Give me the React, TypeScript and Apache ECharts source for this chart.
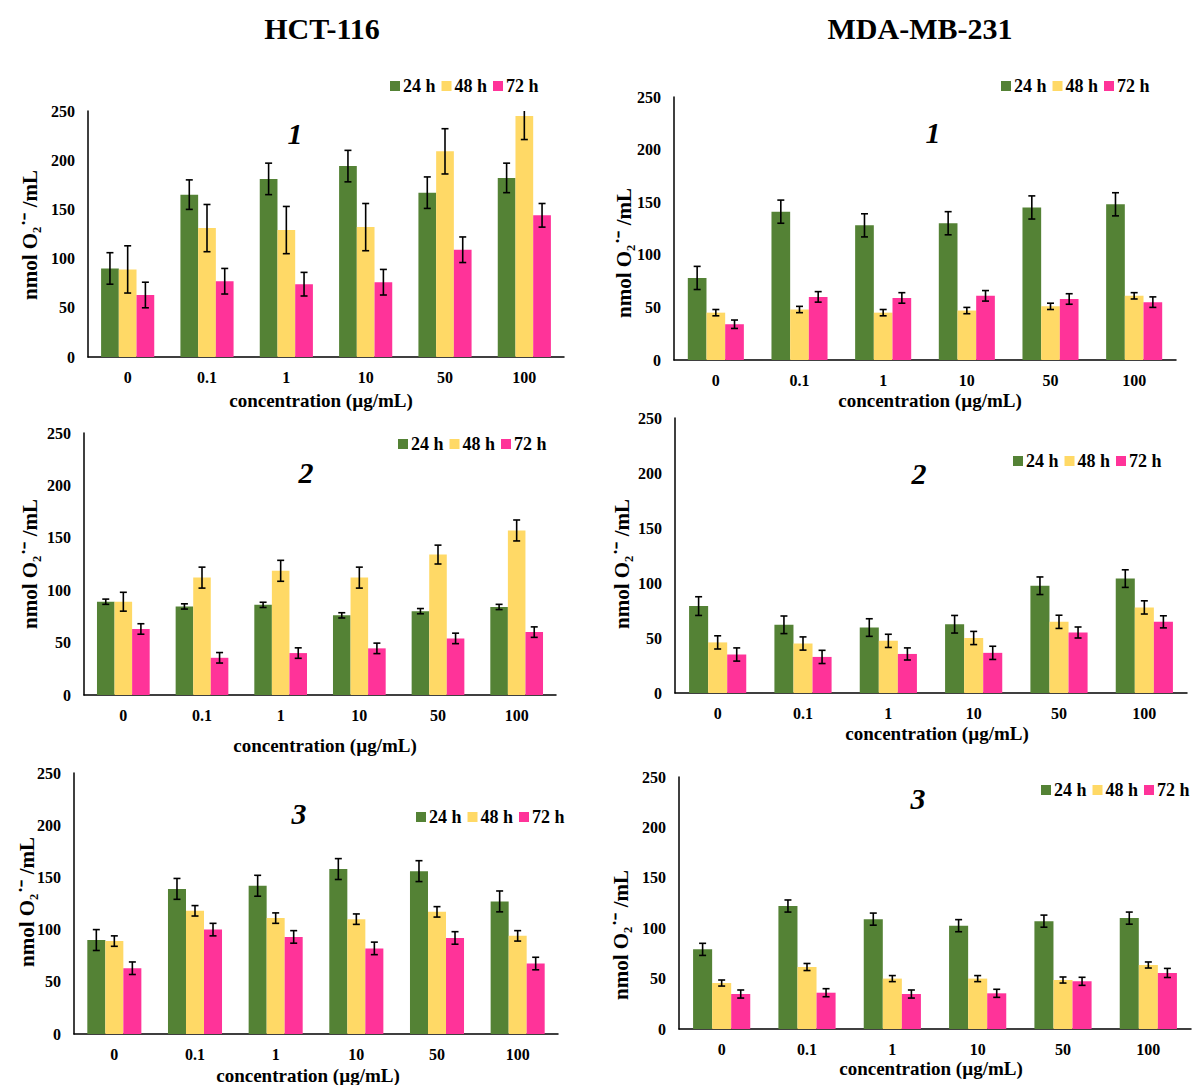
import React, { useEffect, useRef } from "react";
import * as echarts from "echarts";

// ---------- data ----------
const categories = ["0", "0.1", "1", "10", "50", "100"];
const seriesNames = ["24 h", "48 h", "72 h"];
const yTicks = { min: 0, max: 250, interval: 50 };

// HCT-116, compound 1
const hct1_24 = [90, 165, 181, 194, 167, 182];
const hct1_24sd = [16, 15, 16, 16, 16, 15];
const hct1_48 = [89, 131, 129, 132, 209, 245];
const hct1_48sd = [24, 24, 24, 24, 23, 24];
const hct1_72 = [63, 77, 74, 76, 109, 144];
const hct1_72sd = [13, 13, 12, 13, 13, 12];

// MDA-MB-231, compound 1
const mda1_24 = [78, 141, 128, 130, 145, 148];
const mda1_24sd = [11, 11, 11, 11, 11, 11];
const mda1_48 = [45, 48, 45, 47, 51, 61];
const mda1_48sd = [3, 3, 3, 3, 3, 3];
const mda1_72 = [34, 60, 59, 61, 58, 55];
const mda1_72sd = [4, 5, 5, 5, 5, 5];

// HCT-116, compound 2
const hct2_24 = [89, 84.5, 86, 76, 80, 84];
const hct2_24sd = [2.5, 2.5, 2.5, 2.5, 2.5, 2.5];
const hct2_48 = [89, 112, 118.5, 112, 134, 157];
const hct2_48sd = [9, 10, 10, 10, 9, 10];
const hct2_72 = [63, 35.5, 40, 44.5, 54, 60];
const hct2_72sd = [5, 5, 5, 5, 5, 5];

// MDA-MB-231, compound 2
const mda2_24 = [79, 62, 59.5, 62.5, 97.5, 104];
const mda2_24sd = [8.5, 8, 8, 8, 8, 8];
const mda2_48 = [46, 45, 47.4, 50, 64.7, 77.8];
const mda2_48sd = [6, 6, 6, 6, 6, 6];
const mda2_72 = [35, 32.8, 35.5, 36.5, 55, 64.7];
const mda2_72sd = [6, 6, 5.5, 6, 5, 5.5];

// HCT-116, compound 3
const hct3_24 = [90, 139, 142, 158, 156, 127];
const hct3_24sd = [10, 10, 10, 10, 10, 10];
const hct3_48 = [89, 118, 111, 110, 117, 94];
const hct3_48sd = [5, 5, 5, 5, 5, 5];
const hct3_72 = [63, 100, 93, 82, 92, 67.5];
const hct3_72sd = [6, 6, 6, 6, 6, 6];

// MDA-MB-231, compound 3
const mda3_24 = [79, 122, 109, 102.5, 107, 110];
const mda3_24sd = [6, 6, 6, 6, 6, 6];
const mda3_48 = [45.6, 61.5, 50, 50, 48.6, 63.5];
const mda3_48sd = [3, 3.5, 3, 3, 3, 3];
const mda3_72 = [34.7, 36, 34.7, 35.4, 47.3, 55.6];
const mda3_72sd = [4, 4, 4, 4, 4, 4.5];

// ---------- layout / style ----------
const COLORS = ["#548235", "#FFD966", "#FF3399"];
const FONT = '"Liberation Serif", "Times New Roman", serif';
const CAT_GAP = 0.33;

const panels = [
  {
    label: "1", means: [hct1_24, hct1_48, hct1_72], sds: [hct1_24sd, hct1_48sd, hct1_72sd],
    grid: { left: 88, top: 111, width: 476, height: 246 },
    legend: { left: 390, cy: 87 }, labelPos: [295, 133], yTitle: [30, 235], xTitle: [321, 400],
  },
  {
    label: "1", means: [mda1_24, mda1_48, mda1_72], sds: [mda1_24sd, mda1_48sd, mda1_72sd],
    grid: { left: 674, top: 97, width: 502, height: 263 },
    legend: { left: 1001, cy: 87 }, labelPos: [933, 132], yTitle: [624, 253], xTitle: [930, 400],
  },
  {
    label: "2", means: [hct2_24, hct2_48, hct2_72], sds: [hct2_24sd, hct2_48sd, hct2_72sd],
    grid: { left: 84, top: 433, width: 472, height: 262 },
    legend: { left: 398, cy: 445 }, labelPos: [306, 472], yTitle: [30, 564], xTitle: [325, 745],
  },
  {
    label: "2", means: [mda2_24, mda2_48, mda2_72], sds: [mda2_24sd, mda2_48sd, mda2_72sd],
    grid: { left: 675, top: 418, width: 512, height: 275 },
    legend: { left: 1013, cy: 462 }, labelPos: [919, 473], yTitle: [622, 564], xTitle: [937, 733],
  },
  {
    label: "3", means: [hct3_24, hct3_48, hct3_72], sds: [hct3_24sd, hct3_48sd, hct3_72sd],
    grid: { left: 74, top: 773, width: 484, height: 261 },
    legend: { left: 416, cy: 818 }, labelPos: [299, 813], yTitle: [27, 902], xTitle: [308, 1075],
  },
  {
    label: "3", means: [mda3_24, mda3_48, mda3_72], sds: [mda3_24sd, mda3_48sd, mda3_72sd],
    grid: { left: 679, top: 777, width: 512, height: 252 },
    legend: { left: 1041, cy: 791 }, labelPos: [918, 798], yTitle: [621, 935], xTitle: [931, 1068],
  },
];

function buildOption() {
  const grid: any[] = [];
  const xAxis: any[] = [];
  const yAxis: any[] = [];
  const series: any[] = [];
  const legend: any[] = [];
  const graphic: any[] = [];

  panels.forEach((p, gi) => {
    grid.push({ ...p.grid, containLabel: false });
    xAxis.push({
      type: "category",
      gridIndex: gi,
      data: categories,
      axisLine: { show: true, lineStyle: { color: "#000", width: 1.5 } },
      axisTick: { show: false },
      axisLabel: { color: "#000", fontFamily: FONT, fontWeight: "bold", fontSize: 16, margin: 12 },
      splitLine: { show: false },
    });
    yAxis.push({
      type: "value",
      gridIndex: gi,
      min: yTicks.min,
      max: yTicks.max,
      interval: yTicks.interval,
      axisLine: { show: true, lineStyle: { color: "#000", width: 1.5 } },
      axisTick: { show: false },
      splitLine: { show: false },
      axisLabel: { color: "#000", fontFamily: FONT, fontWeight: "bold", fontSize: 16, margin: 13 },
    });
    legend.push({
      data: seriesNames,
      left: p.legend.left,
      top: p.legend.cy - 10,
      itemWidth: 10,
      itemHeight: 10,
      itemGap: 6,
      icon: "rect",
      padding: 0,
      textStyle: { color: "#000", fontFamily: FONT, fontWeight: "bold", fontSize: 18, padding: [0, 0, 0, -2] },
    });

    seriesNames.forEach((name, k) => {
      series.push({
        name,
        type: "bar",
        xAxisIndex: gi,
        yAxisIndex: gi,
        data: p.means[k],
        barGap: "0%",
        barCategoryGap: CAT_GAP * 100 + "%",
        itemStyle: { color: COLORS[k] },
        z: 2,
      });
    });
    seriesNames.forEach((name, k) => {
      const errData = p.means[k].map((m, i) => [i, m - p.sds[k][i], m + p.sds[k][i]]);
      series.push({
        name: "err-" + gi + "-" + k,
        type: "custom",
        xAxisIndex: gi,
        yAxisIndex: gi,
        clip: true,
        z: 5,
        silent: true,
        encode: { x: 0, y: [1, 2] },
        data: errData,
        renderItem: (params: any, api: any) => {
          const idx = api.value(0);
          const lo = api.coord([idx, api.value(1)]);
          const hi = api.coord([idx, api.value(2)]);
          const band = api.size([1, 0])[0];
          const bw = (band * (1 - CAT_GAP)) / 3;
          const cx = lo[0] + (k - 1) * bw;
          const cap = 3.5;
          const st = { stroke: "#000", lineWidth: 1.6 };
          return {
            type: "group",
            children: [
              { type: "line", shape: { x1: cx, y1: lo[1], x2: cx, y2: hi[1] }, style: st },
              { type: "line", shape: { x1: cx - cap, y1: lo[1], x2: cx + cap, y2: lo[1] }, style: st },
              { type: "line", shape: { x1: cx - cap, y1: hi[1], x2: cx + cap, y2: hi[1] }, style: st },
            ],
          };
        },
      });
    });

    graphic.push({
      type: "text",
      x: p.labelPos[0],
      y: p.labelPos[1],
      style: {
        text: p.label, fill: "#000", fontFamily: FONT, fontWeight: "bold", fontStyle: "italic",
        fontSize: 30, align: "center", verticalAlign: "middle",
      },
    });
    graphic.push({
      type: "text",
      x: p.yTitle[0],
      y: p.yTitle[1],
      rotation: Math.PI / 2,
      style: {
        text: "nmol O\u2082\u02D9\u207B /mL", fill: "#000", fontFamily: FONT, fontWeight: "bold",
        fontSize: 21, align: "center", verticalAlign: "middle",
      },
    });
    graphic.push({
      type: "text",
      x: p.xTitle[0],
      y: p.xTitle[1],
      style: {
        text: "concentration (\u00B5g/mL)", fill: "#000", fontFamily: FONT, fontWeight: "bold",
        fontSize: 19, align: "center", verticalAlign: "middle",
      },
    });
  });

  graphic.push({
    type: "text", x: 322, y: 28,
    style: { text: "HCT-116", fill: "#000", fontFamily: FONT, fontWeight: "bold", fontSize: 30, align: "center", verticalAlign: "middle" },
  });
  graphic.push({
    type: "text", x: 920, y: 28,
    style: { text: "MDA-MB-231", fill: "#000", fontFamily: FONT, fontWeight: "bold", fontSize: 30, align: "center", verticalAlign: "middle" },
  });

  return {
    animation: false,
    backgroundColor: "#fff",
    grid,
    xAxis,
    yAxis,
    legend,
    series,
    graphic,
  };
}

export default function App() {
  const ref = useRef<HTMLDivElement>(null);
  useEffect(() => {
    document.body.style.margin = "0";
    if (!ref.current) return;
    const chart = echarts.init(ref.current, null, { renderer: "svg" });
    chart.setOption(buildOption() as any);
    return () => chart.dispose();
  }, []);
  return <div ref={ref} style={{ width: 1199, height: 1085 }} />;
}
